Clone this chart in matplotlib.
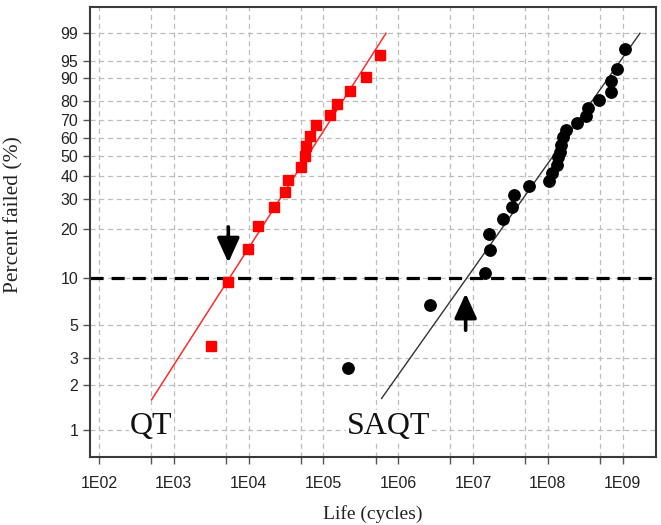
import numpy as np
import matplotlib
matplotlib.use("Agg")
import matplotlib.pyplot as plt
from matplotlib.ticker import FixedLocator, FuncFormatter, NullLocator

# ---------------- data ----------------
qt_life = [3.14e3, 5.3e3, 9.8e3, 1.34e4, 2.19e4, 3.07e4, 3.37e4, 5.02e4, 5.67e4,
           5.85e4, 6.62e4, 7.96e4, 1.22e5, 1.52e5, 2.27e5, 3.71e5, 5.71e5]
qt_pct = [3.6, 9.5, 15.2, 20.9, 27.0, 32.6, 38.0, 44.1, 49.8, 55.4, 61.2, 67.3,
          72.8, 78.8, 84.9, 90.5, 96.3]

saqt_life = [2.15e5, 2.66e6, 1.45e7, 1.67e7, 1.65e7, 2.54e7, 3.29e7, 3.57e7, 5.61e7,
             1.04e8, 1.14e8, 1.31e8, 1.39e8, 1.46e8, 1.52e8, 1.62e8, 1.73e8,
             2.46e8, 3.21e8, 3.48e8, 4.83e8, 7.06e8, 7.0e8, 8.34e8, 1.08e9]
saqt_pct = [2.6, 6.7, 10.8, 15.0, 18.9, 22.9, 26.9, 31.5, 35.3, 37.5, 41.5, 45.5,
            49.5, 52.2, 56.0, 60.6, 64.5, 68.4, 72.3, 76.8, 80.8, 84.6, 89.0, 93.0, 97.3]

# fitted lines (end points)
qt_fit_life = [5.06e2, 6.87e5]
qt_fit_pct = [1.6, 99.0]
saqt_fit_life = [6.0e5, 1.71e9]
saqt_fit_pct = [1.63, 99.0]

ref_pct = 10  # horizontal reference level

y_ticks = [1, 2, 3, 5, 10, 20, 30, 40, 50, 60, 70, 80, 90, 95, 99]
x_major = [10.0 ** k for k in range(2, 10)]
x_minor = [5 * 10.0 ** k for k in range(2, 9)]

# arrows (tail -> tip), in data units
qt_arrow_x = 5.36e3
qt_arrow_tail, qt_arrow_tip = 20.7, 12.5
saqt_arrow_x = 7.98e6
saqt_arrow_tail, saqt_arrow_tip = 4.6, 7.97

# ---------------- scale ----------------
def fwd(p):
    p = np.clip(np.asarray(p, dtype=float), 1e-6, 99.99999) / 100.0
    return np.log(-np.log(1.0 - p))

def inv(w):
    return 100.0 * (1.0 - np.exp(-np.exp(np.asarray(w, dtype=float))))

fig = plt.figure(figsize=(6.61, 5.25), dpi=100)
ax = fig.add_axes([0.1362, 0.130, 0.8562, 0.8567])
ax.set_xscale('log')
ax.set_yscale('function', functions=(fwd, inv))
ax.set_xlim(10 ** 1.88, 10 ** 9.447)
ax.set_ylim(0.666, 99.9)

grid_kw = dict(color='#bdbdbd', linewidth=0.9, linestyle=(0, (4, 3)))
ax.xaxis.set_major_locator(FixedLocator(x_major))
ax.xaxis.set_minor_locator(FixedLocator(x_minor))
ax.xaxis.set_major_formatter(FuncFormatter(lambda v, pos: "1E%02d" % round(np.log10(v))))
ax.xaxis.set_minor_formatter(FuncFormatter(lambda v, pos: ""))
ax.yaxis.set_major_locator(FixedLocator(y_ticks))
ax.yaxis.set_minor_locator(NullLocator())
ax.yaxis.set_major_formatter(FuncFormatter(lambda v, pos: "%d" % round(v)))
ax.grid(True, which='both', axis='x', **grid_kw)
ax.grid(True, which='major', axis='y', **grid_kw)
ax.set_axisbelow(True)

for s in ax.spines.values():
    s.set_color('#3a3a3a')
    s.set_linewidth(1.5)
ax.tick_params(which='both', direction='out', color='#555555', width=1.0,
               labelsize=11.5, labelcolor='#222222')
ax.tick_params(which='major', length=5)
ax.tick_params(which='minor', length=5)
for lab in ax.get_xticklabels() + ax.get_yticklabels():
    lab.set_family('Liberation Sans')
ax.tick_params(axis='x', pad=9)

# reference line
ax.axhline(ref_pct, color='black', linewidth=2.3, linestyle=(0, (4.1, 2.5)), zorder=2)

# fits
ax.plot(qt_fit_life, qt_fit_pct, color='#ff2a2a', linewidth=1.1, zorder=3)
ax.plot(saqt_fit_life, saqt_fit_pct, color='#333333', linewidth=1.0, zorder=3)

# data
ax.plot(qt_life, qt_pct, linestyle='none', marker='s', markersize=6.8,
        color='#ff0000', zorder=4)
ax.plot(saqt_life, saqt_pct, linestyle='none', marker='o', markersize=8.2,
        color='black', zorder=4)

arrow_kw = dict(arrowstyle='-|>,head_length=0.75,head_width=0.34', color='black',
                linewidth=2.6, shrinkA=0, shrinkB=0, mutation_scale=20)
ax.annotate('', xy=(qt_arrow_x, qt_arrow_tip), xytext=(qt_arrow_x, qt_arrow_tail),
            arrowprops=arrow_kw, zorder=5)
ax.annotate('', xy=(saqt_arrow_x, saqt_arrow_tip), xytext=(saqt_arrow_x, saqt_arrow_tail),
            arrowprops=arrow_kw, zorder=5)

serif = 'Liberation Serif'
ax.text(0.0707, 0.068, 'QT', transform=ax.transAxes, family=serif, fontsize=23,
        ha='left', va='center', color='#111111',
        bbox=dict(facecolor='white', edgecolor='none', pad=1))
ax.text(0.4537, 0.068, 'SAQT', transform=ax.transAxes, family=serif, fontsize=23,
        ha='left', va='center', color='#111111',
        bbox=dict(facecolor='white', edgecolor='none', pad=1))

ax.set_xlabel('Life (cycles)', family=serif, fontsize=14, color='#222222', labelpad=10)
ax.set_ylabel('Percent failed (%)', family=serif, fontsize=15.5, color='#222222')
ax.yaxis.set_label_coords(-0.117, 0.539)

fig.savefig('out.png', dpi=100)
